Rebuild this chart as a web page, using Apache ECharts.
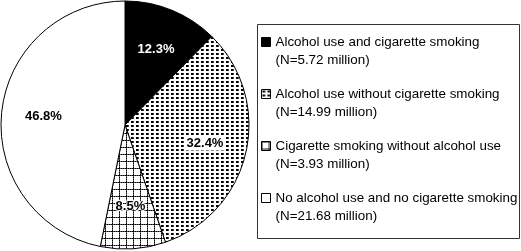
<!DOCTYPE html>
<html>
<head>
<meta charset="utf-8">
<script src="https://cdn.jsdelivr.net/npm/echarts@6/dist/echarts.min.js"></script>
<style>
  html, body { margin: 0; padding: 0; background: #fff; }
  #chart { width: 521px; height: 251px; }
</style>
</head>
<body>
<div id="chart"></div>
<script>
// data
const categories = [
  "Alcohol use and cigarette smoking",
  "Alcohol use without cigarette smoking",
  "Cigarette smoking without alcohol use",
  "No alcohol use and no cigarette smoking"
];
const millions = [5.72, 14.99, 3.93, 21.68];
const millionLabels = ["5.72", "14.99", "3.93", "21.68"];

const FONT = "'Liberation Sans', Arial, sans-serif";

// dotted fill: small dark squares
function dotPattern() {
  const c = document.createElement("canvas");
  c.width = 5; c.height = 4;
  const g = c.getContext("2d");
  g.fillStyle = "#fff"; g.fillRect(0, 0, 5, 4);
  g.fillStyle = "#000"; g.fillRect(1, 1, 2, 2);
  g.fillStyle = "#444"; g.fillRect(3, 1, 1, 2);
  return c;
}
// grid fill made of dotted lines
function gridPattern() {
  const c = document.createElement("canvas");
  c.width = 7; c.height = 7;
  const g = c.getContext("2d");
  g.fillStyle = "#fff"; g.fillRect(0, 0, 7, 7);
  g.fillStyle = "#000";
  for (let i = 0; i < 7; i += 2) {
    g.fillRect(i, 0, 1, 1);
    g.fillRect(0, i, 1, 1);
  }
  g.fillStyle = "#555";
  for (let i = 1; i < 7; i += 2) {
    g.fillRect(i, 0, 1, 1);
    g.fillRect(0, i, 1, 1);
  }
  return c;
}

const fills = [
  "#000",
  { image: dotPattern(), repeat: "repeat" },
  { image: gridPattern(), repeat: "repeat" },
  "#fff"
];
const labelColors = ["#fff", "#000", "#000", "#000"];
const labelBg = [null, "#fff", null, null];

const total = millions.reduce((a, b) => a + b, 0);

const chart = echarts.init(document.getElementById("chart"), null, { renderer: "canvas" });

const pieData = categories.map((name, i) => ({
  name,
  value: millions[i],
  itemStyle: { color: fills[i] }
}));

const labelData = categories.map((name, i) => ({
  name,
  value: millions[i],
  label: {
    color: labelColors[i],
    backgroundColor: labelBg[i] || "transparent",
    textBorderColor: i === 2 ? "#fff" : "transparent",
    textBorderWidth: i === 2 ? 2 : 0
  }
}));

chart.setOption({
  animation: false,
  backgroundColor: "#fff",
  legend: {
    orient: "vertical",
    left: 261,
    top: 15,
    padding: 0,
    itemGap: -2,
    itemWidth: 9,
    itemHeight: 9,
    icon: "rect",
    selectedMode: false,
    data: categories,
    itemStyle: { borderColor: "#000", borderWidth: 1 },
    textStyle: { fontFamily: FONT, fontSize: 13.4, lineHeight: 18, color: "#000" },
    formatter: (name) => {
      const i = categories.indexOf(name);
      return "\n" + name + "\n(N=" + millionLabels[i] + " million)";
    }
  },
  graphic: [{
    type: "rect",
    shape: { x: 257.5, y: 24.5, width: 262, height: 214 },
    style: { fill: "transparent", stroke: "#333", lineWidth: 1 },
    silent: true
  }],
  series: [
    {
      type: "pie",
      center: [125, 125],
      radius: [0, 124],
      startAngle: 90,
      clockwise: true,
      label: { show: false },
      labelLine: { show: false },
      emphasis: { disabled: true },
      itemStyle: { borderColor: "#000", borderWidth: 1 },
      data: pieData
    },
    {
      // label ring, pushes the percentages out from the centre
      type: "pie",
      center: [125, 125],
      radius: [34, 124],
      startAngle: 90,
      clockwise: true,
      silent: true,
      legendHoverLink: false,
      itemStyle: { color: "transparent", borderWidth: 0 },
      label: {
        show: true,
        position: "inside",
        fontFamily: FONT,
        fontSize: 13,
        fontWeight: "bold",
        padding: [1, 1],
        formatter: (p) => (p.value / total * 100).toFixed(1) + "%"
      },
      labelLine: { show: false },
      emphasis: { disabled: true },
      data: labelData
    }
  ]
});
</script>
</body>
</html>
